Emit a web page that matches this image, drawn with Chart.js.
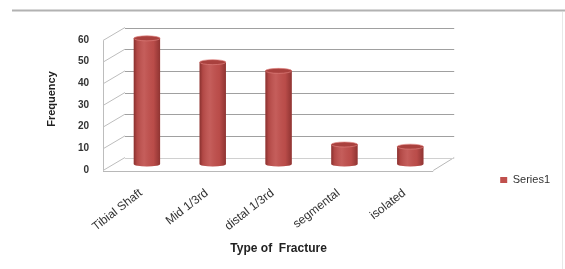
<!DOCTYPE html>
<html>
<head>
<meta charset="utf-8">
<script src="https://cdn.jsdelivr.net/npm/chart.js@4"></script>
<style>
    html, body { margin: 0; padding: 0; background: #fff; }
    canvas { display: block; }
</style>
</head>
<body>
<canvas id="fractureChart" width="565" height="269"></canvas>
<script>
// values
const fractureTypes = ['Tibial Shaft', 'Mid 1/3rd', 'distal 1/3rd', 'segmental', 'isolated'];
const series1 = [58, 47, 43, 9, 8];
const yTicks = [0, 10, 20, 30, 40, 50, 60];

const BAR_RED = '#c0504d';
const DX = 11; // depth shift, px
const DY = 6.5;

function line(ctx, x1, y1, x2, y2) {
    ctx.beginPath();
    ctx.moveTo(x1, y1);
    ctx.lineTo(x2, y2);
    ctx.stroke();
}

// page frame, back wall, side wall and floor
const wallPlugin = {
    id: 'wall3d',
    beforeDraw(chart) {
        const ctx = chart.ctx;
        ctx.save();
        ctx.strokeStyle = '#b2b2b2';
        ctx.lineWidth = 2;
        line(ctx, 12, 10.5, chart.width, 10.5);
        ctx.strokeStyle = '#e8e8e8';
        ctx.lineWidth = 1;
        line(ctx, 562.5, 12, 562.5, chart.height);
        ctx.restore();
    },
    beforeDatasetsDraw(chart) {
        const {ctx, chartArea: a, scales: {y}} = chart;
        ctx.save();
        ctx.lineWidth = 1;
        y.ticks.forEach(t => {
            const py = y.getPixelForValue(t.value);
            ctx.strokeStyle = '#bdbdbd';
            line(ctx, a.left - DX, py + DY, a.left + DX, py - DY);
            if (t.value > 0) {
                ctx.strokeStyle = '#a0a0a0';
                line(ctx, a.left + DX, Math.round(py - DY) + 0.5, a.right + DX, Math.round(py - DY) + 0.5);
            }
        });
        const top = y.getPixelForValue(yTicks[yTicks.length - 1]);
        ctx.strokeStyle = '#bdbdbd';
        line(ctx, a.left - DX + 0.5, top + DY, a.left - DX + 0.5, a.bottom + DY);
        // floor
        ctx.strokeStyle = '#b8b8b8';
        line(ctx, a.left - DX, Math.round(a.bottom + DY) + 0.5, a.right - DX + 1, Math.round(a.bottom + DY) + 0.5);
        line(ctx, a.right - DX + 1, a.bottom + DY, a.right + DX, a.bottom - DY);
        ctx.strokeStyle = '#d0d0d0';
        line(ctx, a.left + DX, Math.round(a.bottom - DY) + 0.5, a.right + DX, Math.round(a.bottom - DY) + 0.5);
        ctx.restore();
    },
    afterDatasetsDraw(chart) {
        const ctx = chart.ctx;
        const meta = chart.getDatasetMeta(0);
        ctx.save();
        meta.data.forEach(bar => {
            const {x, y, base, width} = bar.getProps(['x', 'y', 'base', 'width'], true);
            const l = x - width / 2;
            const rx = width / 2;
            const ry = 2.5;
            const shade = ctx.createLinearGradient(l, 0, l + width, 0);
            shade.addColorStop(0, 'rgba(70,10,10,0.45)');
            shade.addColorStop(0.12, 'rgba(70,10,10,0.12)');
            shade.addColorStop(0.4, 'rgba(255,255,255,0.08)');
            shade.addColorStop(0.75, 'rgba(70,10,10,0.05)');
            shade.addColorStop(1, 'rgba(70,10,10,0.4)');
            // rounded bottom
            ctx.fillStyle = BAR_RED;
            ctx.beginPath();
            ctx.ellipse(x, base, rx, ry, 0, 0, Math.PI);
            ctx.fill();
            ctx.fillStyle = shade;
            ctx.beginPath();
            ctx.ellipse(x, base, rx, ry, 0, 0, Math.PI);
            ctx.fill();
            ctx.fillRect(l, y, width, base - y);
            // top cap
            ctx.fillStyle = '#a9413e';
            ctx.beginPath();
            ctx.ellipse(x, y, rx, ry, 0, 0, Math.PI * 2);
            ctx.fill();
            ctx.strokeStyle = 'rgba(225,130,128,0.8)';
            ctx.lineWidth = 0.8;
            ctx.stroke();
        });
        ctx.restore();
    }
};

const chart = new Chart(document.getElementById('fractureChart'), {
    type: 'bar',
    data: {
        labels: fractureTypes,
        datasets: [{
            label: 'Series1',
            data: series1,
            backgroundColor: BAR_RED,
            borderWidth: 0,
            categoryPercentage: 1,
            barPercentage: 0.4
        }]
    },
    options: {
        responsive: false,
        animation: false,
        layout: {
            padding: { top: 34, right: 5, bottom: 0, left: 0 }
        },
        scales: {
            x: {
                grid: { display: false, drawTicks: false },
                border: { display: false },
                ticks: {
                    maxRotation: 38,
                    minRotation: 38,
                    padding: 22,
                    labelOffset: -6,
                    color: '#333',
                    font: { family: 'Liberation Sans', size: 12 }
                },
                title: {
                    display: true,
                    text: 'Type of  Fracture',
                    color: '#222',
                    padding: { top: 0, bottom: 13 },
                    font: { family: 'Liberation Sans', size: 12, weight: 'bold' }
                },
                afterFit(scale) {
                    scale.height = 105;
                }
            },
            y: {
                min: yTicks[0],
                max: yTicks[yTicks.length - 1],
                grid: { display: false, drawTicks: false },
                border: { display: false },
                ticks: {
                    stepSize: 10,
                    padding: 25,
                    labelOffset: 6,
                    color: '#333',
                    font: { family: 'Liberation Sans', size: 10, weight: 'bold' }
                },
                title: {
                    display: true,
                    text: 'Frequency',
                    color: '#222',
                    padding: { top: 45, bottom: 0 },
                    font: { family: 'Liberation Sans', size: 11, weight: 'bold' }
                },
                afterFit(scale) {
                    scale.width = 114;
                }
            }
        },
        plugins: {
            legend: {
                position: 'right',
                title: {
                    display: true,
                    text: '',
                    padding: { top: 0, bottom: 45 },
                    font: { size: 10 }
                },
                labels: {
                    boxWidth: 7,
                    boxHeight: 6,
                    padding: 57,
                    color: '#333',
                    font: { family: 'Liberation Sans', size: 11 }
                }
            },
            tooltip: { enabled: false }
        }
    },
    plugins: [wallPlugin]
});
</script>
</body>
</html>
